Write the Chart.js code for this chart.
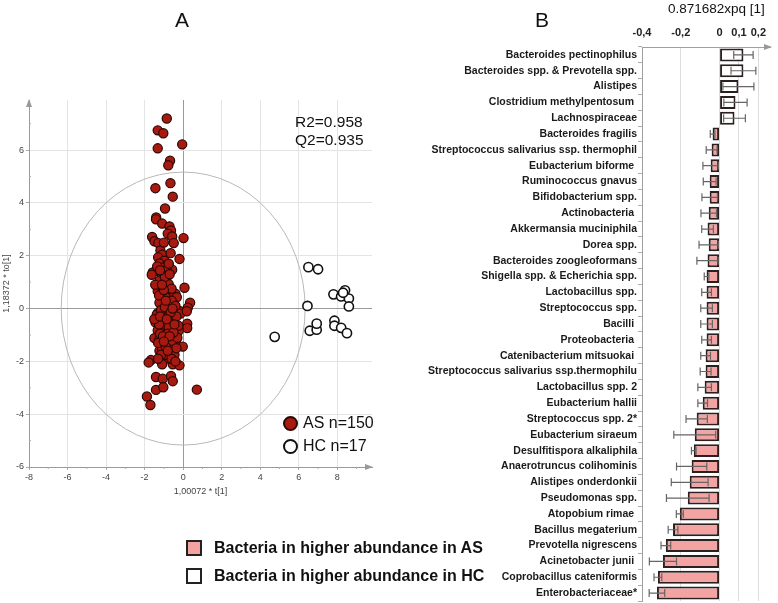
<!DOCTYPE html>
<html><head><meta charset="utf-8">
<script src="https://cdn.jsdelivr.net/npm/chart.js@4.4.1/dist/chart.umd.min.js"></script>
<style>
body{margin:0;background:#fff;width:778px;height:603px;overflow:hidden;position:relative;font-family:"Liberation Sans",Arial,sans-serif;}
.abs{position:absolute;white-space:nowrap;color:#111;line-height:1;}
#cA{position:absolute;left:0;top:0;}
#cB{position:absolute;left:400px;top:0;}
.dot{position:absolute;width:13px;height:13px;border-radius:50%;box-sizing:border-box;}
.sq{position:absolute;width:16px;height:16px;box-sizing:border-box;border:2px solid #222;}
</style></head><body>
<canvas id="cA" width="400" height="520" style="width:400px;height:520px"></canvas>
<canvas id="cB" width="378" height="603" style="width:378px;height:603px"></canvas>

<div class="abs" style="left:175px;top:9px;font-size:21px;">A</div>
<div class="abs" style="left:535px;top:9px;font-size:21px;">B</div>
<div class="abs" style="left:668px;top:2px;font-size:13.5px;">0.871682xpq [1]</div>
<div class="abs" style="left:295px;top:113px;font-size:15.5px;line-height:18px;">R2=0.958<br>Q2=0.935</div>

<div class="dot" style="left:283px;top:416px;width:15px;height:15px;background:#a8190f;border:2px solid #2a0806;"></div>
<div class="abs" style="left:303px;top:415px;font-size:16px;">AS n=150</div>
<div class="dot" style="left:283px;top:439px;width:15px;height:15px;background:#fff;border:2px solid #111;"></div>
<div class="abs" style="left:303px;top:438px;font-size:16px;">HC n=17</div>

<div class="sq" style="left:186px;top:540px;background:#f4a3a3;"></div>
<div class="abs" style="left:214px;top:540px;font-size:16px;font-weight:bold;">Bacteria in higher abundance in AS</div>
<div class="sq" style="left:186px;top:568px;background:#fff;"></div>
<div class="abs" style="left:214px;top:568px;font-size:16px;font-weight:bold;">Bacteria in higher abundance in HC</div>

<script>
// ---------- Panel A data (scores) ----------
const asX = [-0.85,-1.32,-1.03,-0.05,-1.32,-0.68,-0.77,-0.66,-1.44,-0.54,-0.94,-1.40,
 -1.41,-1.09,-0.71,-0.63,-0.80,-0.57,0.02,-1.61,-1.49,-1.29,-0.49,-1.18,-1.09,-1.30,-0.19,-0.97,-1.23,-0.75,-1.06,-0.57,-0.85,-1.58,-1.63,-1.09,-0.80,-1.23,-0.92,-0.75,0.07,-1.32,-1.09,-0.71,-0.40,-0.54,-0.89,-0.33,-1.23,-0.80,0.36,-0.45,0.24,-0.16,-1.32,-0.80,
 -1.37,-1.03,-0.71,-0.14,0.19,-1.44,-1.15,-0.80,0.21,0.21,-1.32,-0.97,-0.63,-0.23,-1.49,-1.23,-0.92,-0.63,-0.36,-1.06,-0.71,-0.40,-0.02,-1.23,-0.89,-0.54,-1.67,-1.79,-1.23,-0.83,-1.09,-0.54,-0.19,-1.41,-1.06,-0.63,-0.54,-1.41,-1.03,0.71,-1.88,-1.70,
 -1.15,-0.95,-0.60,-1.00,-0.75,-0.50,-1.20,-0.85,-0.55,-1.10,-0.70,-0.45,-0.95,-1.30,-0.30,-0.35,-1.25,-0.60,-0.95,-1.35,-0.65,-1.00,-1.25,-0.65,-0.25,-0.80,-1.05,-0.50,-0.90,-0.60,-1.50,-0.40,-1.00,-0.75,-1.45,
 -1.20,-0.85,-0.45,-0.70,-1.00,-0.35,-1.15,-0.80,-1.30,-0.55,-0.90,-1.10,-0.70,-1.20,-0.40];
const asY = [7.20,6.75,6.64,6.22,6.07,5.60,5.43,4.75,4.56,4.24,3.79,3.45,
 3.38,3.22,3.11,2.96,2.84,2.73,2.67,2.71,2.55,2.48,2.48,2.20,2.04,1.94,1.88,1.81,1.71,1.66,1.56,1.47,1.46,1.37,1.28,1.26,1.24,1.05,0.98,0.92,0.79,0.66,0.60,0.57,0.56,0.47,0.41,0.43,0.22,0.18,0.22,0.15,0.03,-0.10,-0.17,-0.17,
 -0.23,-0.29,-0.32,-0.19,-0.10,-0.52,-0.55,-0.52,-0.57,-0.74,-0.83,-0.83,-0.91,-0.83,-1.12,-1.16,-1.09,-1.00,-1.19,-1.32,-1.38,-1.42,-1.44,-1.60,-1.60,-1.64,-1.95,-2.04,-1.89,-1.89,-2.11,-2.11,-2.15,-2.59,-2.66,-2.55,-2.75,-3.08,-2.98,-3.07,-3.33,-3.65,
 -0.05,0.05,0.30,-0.60,-0.70,-0.45,-0.95,-1.20,-1.25,-1.50,-1.55,-1.75,-1.75,-1.30,-1.10,-0.30,0.50,0.75,1.20,1.60,2.10,2.50,-0.60,-0.15,-0.65,-0.95,-1.05,-0.90,-1.45,-1.90,-0.40,0.10,0.70,1.70,0.90,
 -0.30,-0.40,-0.60,-1.05,-1.25,-1.50,-1.75,-1.60,-1.90,0.00,0.30,0.90,1.30,1.45,-2.00];
const hcX = [6.50,7.00,7.80,8.40,8.20,8.60,8.60,6.45,4.75,6.57,6.93,6.93,7.85,7.85,8.20,8.50,8.30];
const hcY = [1.57,1.49,0.54,0.69,0.46,0.38,0.08,0.10,-1.07,-0.84,-0.80,-0.57,-0.46,-0.65,-0.73,-0.93,0.60];
const xTicksA = [-8,-6,-4,-2,0,2,4,6,8];
const yTicksA = [-6,-4,-2,0,2,4,6];
const ellipseRx = 6.33, ellipseRy = 5.17;

// ---------- Panel B data (loadings) ----------
const taxa = ["Bacteroides pectinophilus","Bacteroides spp. & Prevotella spp.","Alistipes","Clostridium methylpentosum ","Lachnospiraceae","Bacteroides fragilis","Streptococcus salivarius ssp. thermophil","Eubacterium biforme ","Ruminococcus gnavus","Bifidobacterium spp.","Actinobacteria ","Akkermansia muciniphila","Dorea spp.","Bacteroides zoogleoformans","Shigella spp. & Echerichia spp.","Lactobacillus spp.","Streptococcus spp.","Bacilli ","Proteobacteria ","Catenibacterium mitsuokai ","Streptococcus salivarius ssp.thermophilu","Lactobacillus spp. 2","Eubacterium hallii","Streptococcus spp. 2*","Eubacterium siraeum","Desulfitispora alkaliphila","Anaerotruncus colihominis","Alistipes onderdonkii","Pseudomonas spp.","Atopobium rimae ","Bacillus megaterium","Prevotella nigrescens","Acinetobacter junii ","Coprobacillus cateniformis","Enterobacteriaceae*"];
const loadings = [0.123,0.123,0.097,0.082,0.077,-0.036,-0.041,-0.046,-0.051,-0.051,-0.056,-0.062,-0.056,-0.062,-0.067,-0.067,-0.067,-0.067,-0.067,-0.072,-0.072,-0.077,-0.087,-0.118,-0.128,-0.133,-0.144,-0.154,-0.164,-0.205,-0.240,-0.277,-0.292,-0.318,-0.323];
const errHalf = [0.050,0.064,0.080,0.060,0.056,0.012,0.028,0.040,0.033,0.040,0.040,0.030,0.050,0.055,0.012,0.025,0.030,0.030,0.025,0.025,0.028,0.035,0.025,0.055,0.108,0.012,0.078,0.095,0.110,0.018,0.025,0.025,0.070,0.020,0.040];
const xTicksB = [-0.4,-0.2,0,0.1,0.2];

const FONT = "'Liberation Sans', Arial, sans-serif";

// ---------- Panel A ----------
const decoA = {
  id:'decoA',
  beforeDatasetsDraw(c){
    const {ctx, scales:{x,y}, chartArea:a} = c;
    const cx = x.getPixelForValue(0), cy = y.getPixelForValue(0);
    const rx = x.getPixelForValue(ellipseRx)-cx, ry = cy - y.getPixelForValue(ellipseRy);
    ctx.save();
    ctx.beginPath(); ctx.ellipse(cx,cy,rx,ry,0,0,Math.PI*2);
    ctx.strokeStyle='#b8b8b8'; ctx.lineWidth=1; ctx.stroke();
    ctx.strokeStyle='#aaa';
    for(let v=-7; v<=9; v+=2){const px=x.getPixelForValue(v); ctx.beginPath(); ctx.moveTo(px,a.bottom); ctx.lineTo(px,a.bottom+2); ctx.stroke();}
    for(let v=-5; v<=7; v+=2){const py=y.getPixelForValue(v); ctx.beginPath(); ctx.moveTo(a.left,py); ctx.lineTo(a.left+2,py); ctx.stroke();}
    ctx.fillStyle='#999';
    ctx.beginPath(); ctx.moveTo(a.left, a.top-1); ctx.lineTo(a.left-3, a.top+7); ctx.lineTo(a.left+3, a.top+7); ctx.closePath(); ctx.fill();
    ctx.beginPath(); ctx.moveTo(a.right+1, a.bottom); ctx.lineTo(a.right-7, a.bottom-3); ctx.lineTo(a.right-7, a.bottom+3); ctx.closePath(); ctx.fill();
    ctx.restore();
  }
};
const gridColA = (ctx) => (ctx.tick && ctx.tick.value === 0) ? '#9a9a9a' : '#e4e4e4';
new Chart(document.getElementById('cA'), {
  type:'scatter',
  data:{datasets:[
    {label:'HC', data:hcX.map((v,i)=>({x:v,y:hcY[i]})), backgroundColor:'#ffffff', borderColor:'#111', borderWidth:1.6, pointRadius:4.6},
    {label:'AS', data:asX.map((v,i)=>({x:v,y:asY[i]})), backgroundColor:'#a8190f', borderColor:'#2a0806', borderWidth:1.2, pointRadius:4.6}
  ]},
  options:{
    responsive:false, animation:false, devicePixelRatio:1,
    layout:{padding:{top:100,right:28,bottom:22,left:0}},
    plugins:{legend:{display:false}, tooltip:{enabled:false}},
    scales:{
      x:{type:'linear', min:-8, max:9.8,
        afterBuildTicks:s=>{s.ticks=xTicksA.map(v=>({value:v}));},
        afterFit:s=>{s.height=31;},
        ticks:{font:{family:FONT,size:9}, color:'#444', padding:2},
        grid:{color:gridColA, tickLength:3, tickColor:'#aaa'},
        border:{color:'#9a9a9a'},
        title:{display:true, text:'1,00072 * t[1]', font:{family:FONT,size:9}, color:'#444', padding:{top:0,bottom:1}}
      },
      y:{type:'linear', min:-6, max:7.9,
        afterBuildTicks:s=>{s.ticks=yTicksA.map(v=>({value:v}));},
        afterFit:s=>{s.width=29;},
        ticks:{font:{family:FONT,size:9}, color:'#444', padding:2},
        grid:{color:gridColA, tickLength:3, tickColor:'#aaa'},
        border:{color:'#9a9a9a'},
        title:{display:true, text:'1,18372 * to[1]', font:{family:FONT,size:9}, color:'#444', padding:{top:1,bottom:0}}
      }
    }
  },
  plugins:[decoA]
});

// ---------- Panel B ----------
const decoB = {
  id:'decoB',
  afterDatasetsDraw(c){
    const {ctx, scales:{x,y}, chartArea:a} = c;
    ctx.save();
    ctx.strokeStyle='#666'; ctx.lineWidth=1.2;
    loadings.forEach((v,i)=>{
      const py = y.getPixelForValue(i);
      const x1 = x.getPixelForValue(v-errHalf[i]), x2 = x.getPixelForValue(v+errHalf[i]);
      ctx.beginPath();
      ctx.moveTo(x1,py); ctx.lineTo(x2,py);
      ctx.moveTo(x1,py-4); ctx.lineTo(x1,py+4);
      ctx.moveTo(x2,py-4); ctx.lineTo(x2,py+4);
      ctx.stroke();
    });
    ctx.fillStyle='#999';
    ctx.beginPath(); ctx.moveTo(a.right+2, a.top); ctx.lineTo(a.right-6, a.top-3); ctx.lineTo(a.right-6, a.top+3); ctx.closePath(); ctx.fill();
    ctx.restore();
  }
};
new Chart(document.getElementById('cB'), {
  type:'bar',
  data:{labels:taxa, datasets:[{
    data:loadings,
    backgroundColor:loadings.map(v=>v>=0?'#ffffff':'#f4a3a3'),
    borderColor:'#2a2020', borderWidth:2, borderSkipped:false,
    barPercentage:0.82, categoryPercentage:1
  }]},
  options:{
    indexAxis:'y', responsive:false, animation:false, devicePixelRatio:1,
    layout:{padding:{top:0,right:8,bottom:2,left:0}},
    plugins:{legend:{display:false}, tooltip:{enabled:false}},
    scales:{
      x:{type:'linear', position:'top', min:-0.4, max:0.26,
        afterBuildTicks:s=>{s.ticks=xTicksB.map(v=>({value:v}));},
        afterFit:s=>{s.height=47; s.paddingLeft=0; s.paddingRight=0;},
        ticks:{font:{family:FONT,size:11,weight:'bold'}, color:'#222', padding:7,
          callback:v=>String(v).replace('.',',')},
        grid:{color:'#dcdcdc', drawTicks:false},
        border:{color:'#a0a0a0'}
      },
      y:{type:'category',
        afterFit:s=>{s.width=242; s.paddingTop=0; s.paddingBottom=0;},
        ticks:{font:{family:FONT,size:10.5,weight:'bold'}, color:'#1a1a1a', padding:1, autoSkip:false},
        grid:{drawOnChartArea:false, tickLength:4, color:'#aaa'},
        border:{color:'#a0a0a0'}
      }
    }
  },
  plugins:[decoB]
});
</script>
</body></html>
